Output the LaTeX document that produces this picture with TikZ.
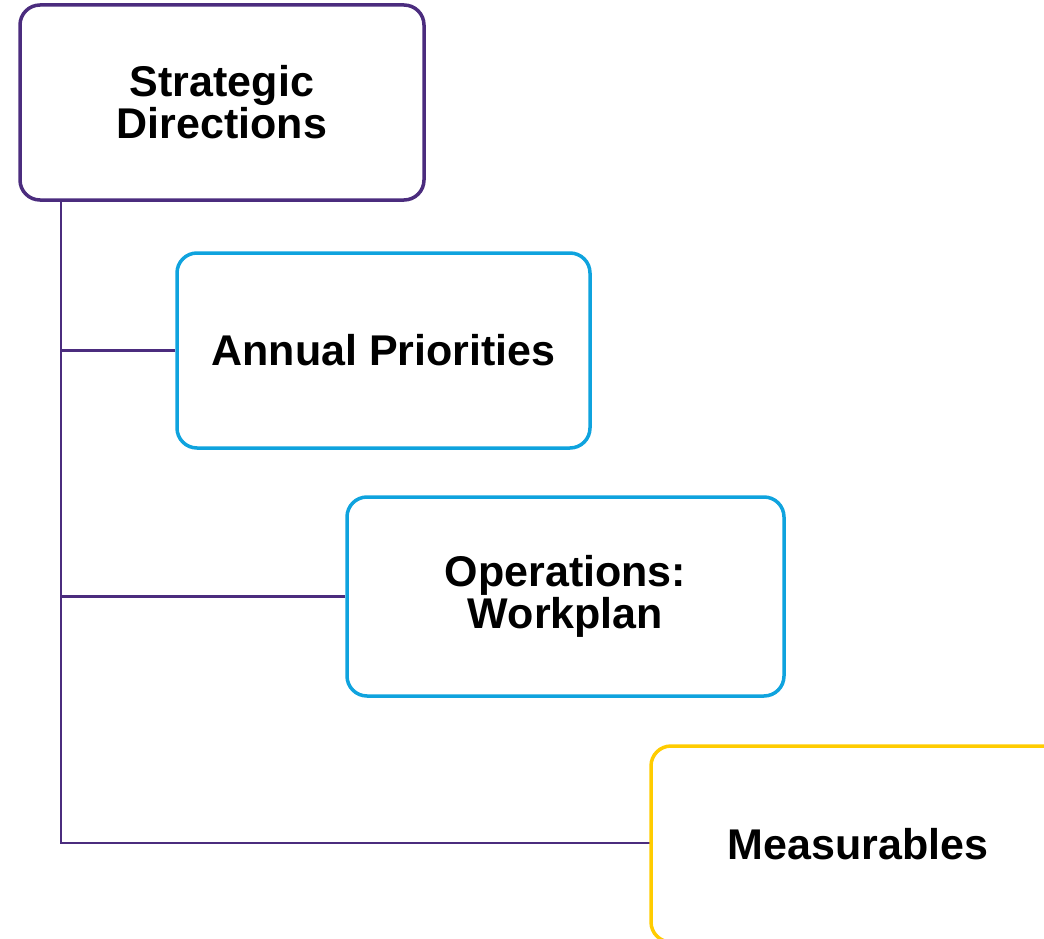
\documentclass[tikz,border=0pt]{standalone}
\usepackage{fontspec}
\setmainfont{Liberation Sans}
\usetikzlibrary{positioning}
\definecolor{sdpurple}{HTML}{4B2C7E}
\definecolor{opblue}{HTML}{0FA3DE}
\definecolor{msyellow}{HTML}{FFCC00}

\begin{document}
\begin{tikzpicture}[x=1pt, y=-1pt,
    align=center, font=\fontsize{43}{42}\selectfont\bfseries,
    box/.style={rectangle, rounded corners=20pt, line width=3.5pt, fill=white, inner sep=0pt},
    link/.style={draw=sdpurple, line width=2.2pt}]
    \useasboundingbox (0,0) rectangle (1044,939);
    \clip (0,0) rectangle (1044,939);

    \coordinate (trunk) at (61,200);

    \path [link] (trunk) |- (858,843);

    \node [box, draw=sdpurple, minimum width=404pt, minimum height=195pt] (sd) at (222,102.5) {Strategic\\Directions};
    \node [box, draw=opblue, minimum width=413pt, minimum height=195pt] (ap) at (383.5,350.5) {Annual Priorities};
    \node [box, draw=opblue, minimum width=437pt, minimum height=199pt] (ow) at (565.5,596.5) {Operations:\\Workplan};
    \node [box, draw=msyellow, minimum width=414pt, minimum height=196pt] (ms) at (858,844) {Measurables};

    \path [link] (ap.west) -- (ap.west -| trunk);
    \path [link] (ow.west) -- (ow.west -| trunk);

\end{tikzpicture}
\end{document}
